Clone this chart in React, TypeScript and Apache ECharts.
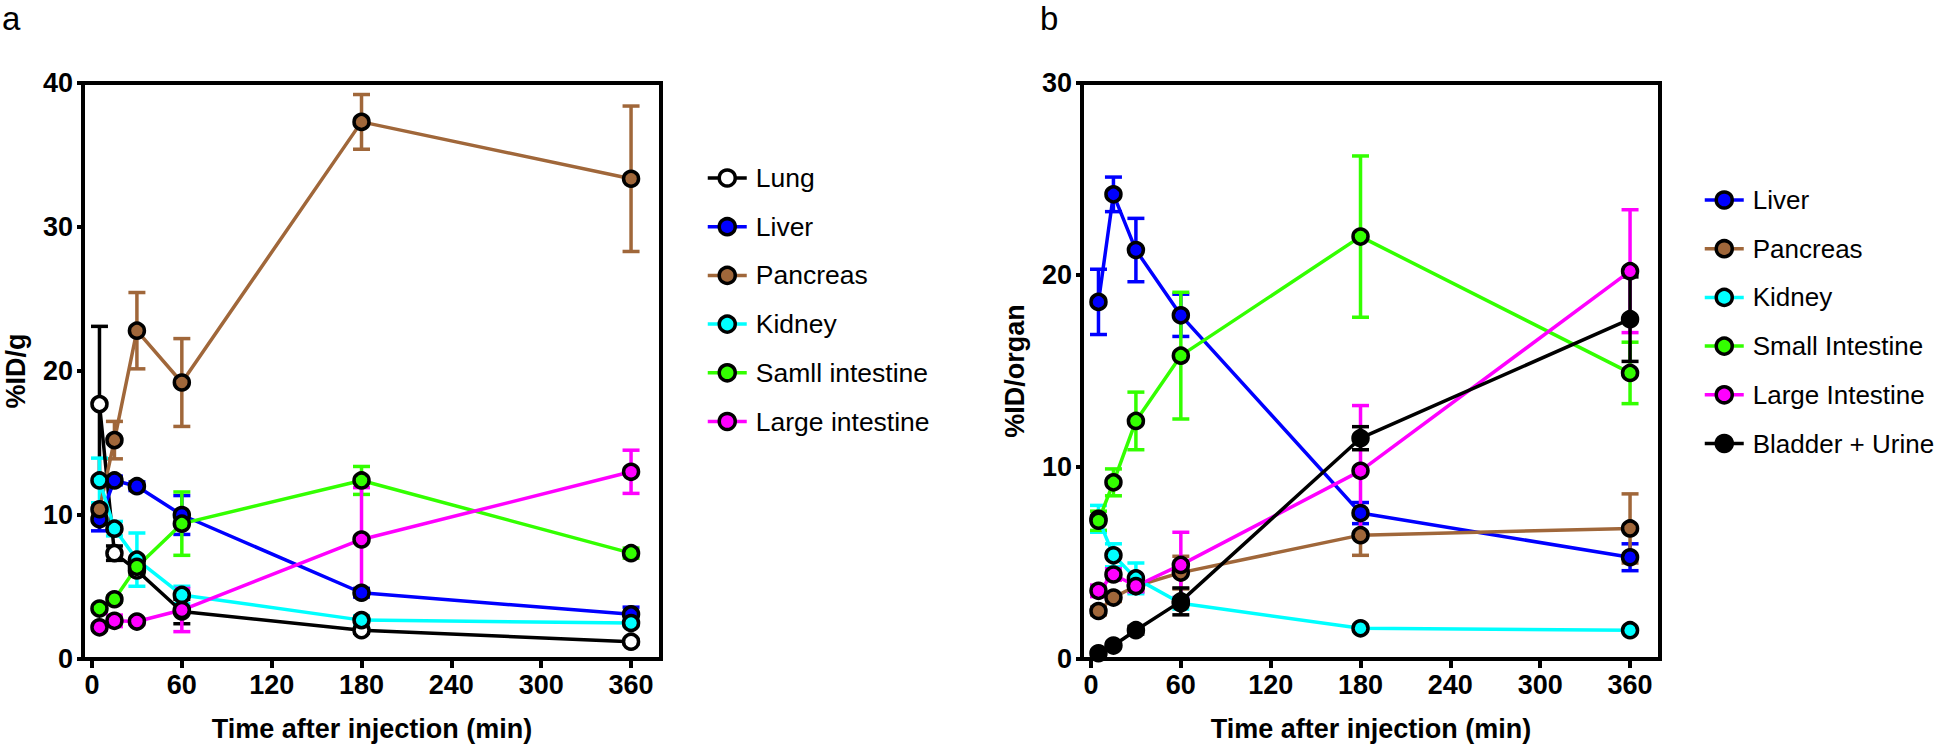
import React, { useEffect, useRef } from 'react';
import * as echarts from 'echarts';

const times = [5, 15, 30, 60, 180, 360];
const xTickValues = [0, 60, 120, 180, 240, 300, 360];

// Panel a (%ID/g)
const lungA = [17.7, 7.35, 6.15, 3.3, 2.0, 1.2];
const lungAErr = [5.4, 0.5, 0.4, 0.85, 0.2, 0.15];
const liverA = [9.7, 12.4, 12.0, 10.0, 4.6, 3.1];
const liverAErr = [0.8, 0.3, 0.3, 1.35, 0.3, 0.5];
const pancreasA = [10.4, 15.2, 22.8, 19.2, 37.3, 33.35];
const pancreasAErr = [0.4, 1.3, 2.65, 3.05, 1.9, 5.05];
const kidneyA = [12.4, 9.05, 6.9, 4.45, 2.7, 2.5];
const kidneyAErr = [1.55, 0.5, 1.85, 0.6, 0.3, 0.2];
const smallA = [3.5, 4.15, 6.4, 9.4, 12.4, 7.35];
const smallAErr = [0.2, 0.2, 0.4, 2.2, 0.97, 0.35];
const largeA = [2.2, 2.65, 2.6, 3.4, 8.3, 13.0];
const largeAErr = [0.2, 0.4, 0.2, 1.5, 3.6, 1.5];

// Panel b (%ID/organ)
const liverB = [18.6, 24.2, 21.3, 17.9, 7.6, 5.3];
const liverBErr = [1.7, 0.9, 1.65, 1.1, 0.55, 0.7];
const pancreasB = [2.5, 3.2, 3.8, 4.5, 6.45, 6.8];
const pancreasBErr = [0.2, 0.2, 0.3, 0.85, 1.05, 1.8];
const kidneyB = [7.3, 5.4, 4.2, 2.9, 1.6, 1.5];
const kidneyBErr = [0.7, 0.6, 0.8, 0.3, 0.15, 0.1];
const smallB = [7.2, 9.2, 12.4, 15.8, 22.0, 14.9];
const smallBErr = [0.5, 0.7, 1.5, 3.3, 4.2, 1.6];
const largeB = [3.55, 4.4, 3.8, 4.9, 9.8, 20.2];
const largeBErr = [0.3, 0.3, 0.3, 1.7, 3.4, 3.2];
const bladderB = [0.3, 0.7, 1.5, 3.0, 11.5, 17.7];
const bladderBErr = [0.1, 0.1, 0.2, 0.7, 0.6, 2.2];

const FONT = 'Liberation Sans, Arial, sans-serif';
const BLUE = '#0000ff';
const BROWN = '#a0673a';
const CYAN = '#00ffff';
const GREEN = '#33ff00';
const MAGENTA = '#ff00ff';
const BLACK = '#000000';

type Def = { name: string; data: number[]; err: number[]; color: string; fill: string };

const defsA: Def[] = [
  { name: 'Lung', data: lungA, err: lungAErr, color: BLACK, fill: '#ffffff' },
  { name: 'Liver', data: liverA, err: liverAErr, color: BLUE, fill: BLUE },
  { name: 'Pancreas', data: pancreasA, err: pancreasAErr, color: BROWN, fill: BROWN },
  { name: 'Kidney', data: kidneyA, err: kidneyAErr, color: CYAN, fill: CYAN },
  { name: 'Samll intestine', data: smallA, err: smallAErr, color: GREEN, fill: GREEN },
  { name: 'Large intestine', data: largeA, err: largeAErr, color: MAGENTA, fill: MAGENTA },
];

const defsB: Def[] = [
  { name: 'Liver', data: liverB, err: liverBErr, color: BLUE, fill: BLUE },
  { name: 'Pancreas', data: pancreasB, err: pancreasBErr, color: BROWN, fill: BROWN },
  { name: 'Kidney', data: kidneyB, err: kidneyBErr, color: CYAN, fill: CYAN },
  { name: 'Small Intestine', data: smallB, err: smallBErr, color: GREEN, fill: GREEN },
  { name: 'Large Intestine', data: largeB, err: largeBErr, color: MAGENTA, fill: MAGENTA },
  { name: 'Bladder + Urine', data: bladderB, err: bladderBErr, color: BLACK, fill: BLACK },
];

const LW = 3.5;

function lineSeries(d: Def, gi: number) {
  return {
    type: 'line',
    name: d.name,
    xAxisIndex: gi,
    yAxisIndex: gi,
    data: times.map((t, i) => [t, d.data[i]]),
    symbol: 'circle',
    symbolSize: 15,
    lineStyle: { color: d.color, width: LW },
    itemStyle: { color: d.fill, borderColor: '#000', borderWidth: 3.5 },
    z: 3,
    silent: true,
  };
}

function errSeries(d: Def, gi: number) {
  return {
    type: 'custom',
    name: d.name + ' err',
    xAxisIndex: gi,
    yAxisIndex: gi,
    data: times.map((t, i) => [t, d.data[i], d.err[i]]),
    z: 2,
    silent: true,
    renderItem: (params: any, api: any) => {
      const x = api.value(0);
      const y = api.value(1);
      const e = api.value(2);
      const p1 = api.coord([x, y + e]);
      const p2 = api.coord([x, y - e]);
      const w = 8.5;
      const st = { stroke: d.color, lineWidth: LW };
      return {
        type: 'group',
        children: [
          { type: 'line', shape: { x1: p1[0], y1: p1[1], x2: p2[0], y2: p2[1] }, style: st },
          { type: 'line', shape: { x1: p1[0] - w, y1: p1[1], x2: p1[0] + w, y2: p1[1] }, style: st },
          { type: 'line', shape: { x1: p2[0] - w, y1: p2[1], x2: p2[0] + w, y2: p2[1] }, style: st },
        ],
      };
    },
  };
}

function xAxisDef(gi: number) {
  return {
    type: 'value',
    gridIndex: gi,
    min: -6,
    max: 380,
    name: 'Time after injection (min)',
    nameLocation: 'middle',
    nameGap: 56,
    nameTextStyle: { fontSize: 27, fontWeight: 'bold', fontFamily: FONT, color: '#000' },
    axisLine: { show: true, onZero: false, lineStyle: { color: '#000', width: 4 } },
    axisTick: { show: true, customValues: xTickValues, length: 9, lineStyle: { color: '#000', width: 4 } },
    axisLabel: { customValues: xTickValues, fontSize: 27, fontWeight: 'bold', fontFamily: FONT, color: '#000', margin: 12 },
    splitLine: { show: false },
  };
}

function yAxisDef(gi: number, max: number, name: string) {
  return {
    type: 'value',
    gridIndex: gi,
    min: 0,
    max,
    interval: 10,
    name,
    nameLocation: 'middle',
    nameGap: 54,
    nameTextStyle: { fontSize: 27, fontWeight: 'bold', fontFamily: FONT, color: '#000' },
    axisLine: { show: true, onZero: false, lineStyle: { color: '#000', width: 4 } },
    axisTick: { show: true, length: 6, lineStyle: { color: '#000', width: 4 } },
    axisLabel: { fontSize: 27, fontWeight: 'bold', fontFamily: FONT, color: '#000', margin: 10 },
    splitLine: { show: false },
  };
}

function legendDef(defs: Def[], left: number, top: number, fontSize: number) {
  return {
    orient: 'vertical',
    left,
    top,
    itemWidth: 39,
    itemHeight: 20,
    itemGap: 18.7,
    selectedMode: false,
    textStyle: { fontSize, fontFamily: FONT, color: '#000', lineHeight: 30, padding: [0, 0, 0, 4] },
    data: defs.map((d) => ({
      name: d.name,
      itemStyle: { color: d.fill, borderColor: '#000', borderWidth: 3.5 },
      lineStyle: { color: d.color, width: LW },
    })),
  };
}

export default function App() {
  const ref = useRef<HTMLDivElement>(null);
  useEffect(() => {
    document.body.style.margin = '0';
    if (!ref.current) return;
    const chart = echarts.init(ref.current, undefined, { renderer: 'svg' });
    const series: any[] = [];
    defsA.forEach((d) => series.push(errSeries(d, 0)));
    defsA.forEach((d) => series.push(lineSeries(d, 0)));
    defsB.forEach((d) => series.push(errSeries(d, 1)));
    defsB.forEach((d) => series.push(lineSeries(d, 1)));
    chart.setOption({
      animation: false,
      backgroundColor: '#ffffff',
      grid: [
        { left: 83, top: 83, width: 578, height: 577, show: true, borderColor: '#000', borderWidth: 4 },
        { left: 1082, top: 83, width: 578, height: 577, show: true, borderColor: '#000', borderWidth: 4 },
      ],
      xAxis: [xAxisDef(0), xAxisDef(1)],
      yAxis: [yAxisDef(0, 40, '%ID/g'), yAxisDef(1, 30, '%ID/organ')],
      legend: [legendDef(defsA, 701, 158, 26.5), legendDef(defsB, 1698, 180, 26)],
      graphic: [
        { type: 'text', left: 2, top: 2, style: { text: 'a', fontSize: 33, fontFamily: FONT, fill: '#000' } },
        { type: 'text', left: 1040, top: 2, style: { text: 'b', fontSize: 33, fontFamily: FONT, fill: '#000' } },
      ],
      series,
    });
    return () => chart.dispose();
  }, []);
  return <div ref={ref} style={{ width: 1946, height: 747 }} />;
}
